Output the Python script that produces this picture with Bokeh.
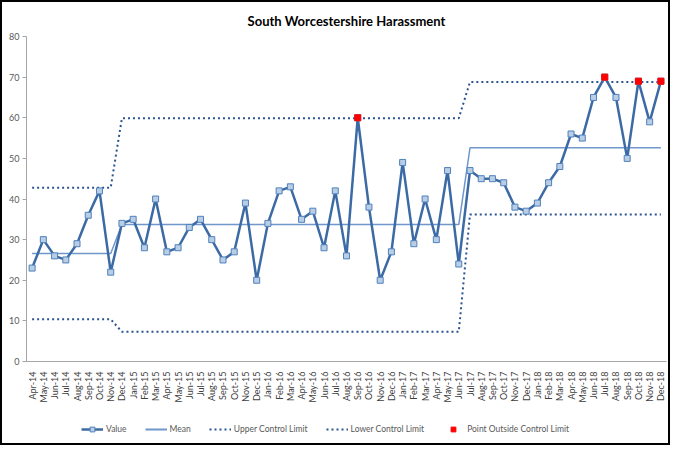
import math
from bokeh.plotting import figure
from bokeh.layouts import column
from bokeh.models import FactorRange, Range1d, FixedTicker, Legend, LegendItem, ColumnDataSource
from bokeh.embed import file_html
from bokeh.resources import INLINE

months = ["Apr-14","May-14","Jun-14","Jul-14","Aug-14","Sep-14","Oct-14","Nov-14","Dec-14",
          "Jan-15","Feb-15","Mar-15","Apr-15","May-15","Jun-15","Jul-15","Aug-15","Sep-15","Oct-15","Nov-15","Dec-15",
          "Jan-16","Feb-16","Mar-16","Apr-16","May-16","Jun-16","Jul-16","Aug-16","Sep-16","Oct-16","Nov-16","Dec-16",
          "Jan-17","Feb-17","Mar-17","Apr-17","May-17","Jun-17","Jul-17","Aug-17","Sep-17","Oct-17","Nov-17","Dec-17",
          "Jan-18","Feb-18","Mar-18","Apr-18","May-18","Jun-18","Jul-18","Aug-18","Sep-18","Oct-18","Nov-18","Dec-18"]

values = [23, 30, 26, 25, 29, 36, 42, 22, 34,
          35, 28, 40, 27, 28, 33, 35, 30, 25, 27, 39, 20,
          34, 42, 43, 35, 37, 28, 42, 26, 60, 38, 20, 27,
          49, 29, 40, 30, 47, 24, 47, 45, 45, 44, 38, 37,
          39, 44, 48, 56, 55, 65, 70, 65, 50, 69, 59, 69]

# Phase limits: Apr-14..Nov-14 (8), Dec-14..Jun-17 (31), Jul-17..Dec-18 (18)
phase_lengths = [8, 31, 18]
phase_mean = [26.6, 33.7, 52.6]
phase_ucl = [42.8, 59.9, 68.8]
phase_lcl = [10.4, 7.3, 36.2]

mean = sum(([m] * n for m, n in zip(phase_mean, phase_lengths)), [])
ucl = sum(([u] * n for u, n in zip(phase_ucl, phase_lengths)), [])
lcl = sum(([l] * n for l, n in zip(phase_lcl, phase_lengths)), [])

out_x = [m for m, v, u, l in zip(months, values, ucl, lcl) if v > u or v < l]
out_y = [v for m, v, u, l in zip(months, values, ucl, lcl) if v > u or v < l]

FONT = "Lato"
TXT = "#595959"
C_VAL = "#3B6AA5"
C_MK_FILL = "#B9CDE5"
C_MK_LINE = "#4F81BD"
C_MEAN = "#7097CB"
C_LIM = "#2A5391"

p = figure(x_range=FactorRange(factors=months, range_padding=0), y_range=Range1d(0, 80),
           width=666, height=405, output_backend="svg", toolbar_location=None,
           min_border_left=24, min_border_right=2, min_border_top=34, min_border_bottom=46,
           title="South Worcestershire Harassment")
p.outline_line_color = None
p.xgrid.grid_line_color = None
p.ygrid.grid_line_color = None
p.title.align = "center"
p.title.text_font = FONT
p.title.text_font_size = "13px"
p.title.text_font_style = "bold"
p.title.text_color = "#000000"
p.title.standoff = 16

p.yaxis.ticker = FixedTicker(ticks=[0, 10, 20, 30, 40, 50, 60, 70, 80])
p.yaxis.major_label_text_font = FONT
p.yaxis.major_label_text_font_size = "9px"
p.yaxis.major_label_text_color = TXT
p.yaxis.axis_line_color = "#A6A6A6"
p.yaxis.major_tick_line_color = "#A6A6A6"
p.yaxis.major_tick_out = 4
p.yaxis.major_tick_in = 0
p.yaxis.minor_tick_line_color = None
p.yaxis.major_label_standoff = 3

p.xaxis.major_label_orientation = math.pi / 2
p.xaxis.major_label_text_font = FONT
p.xaxis.major_label_text_font_size = "9px"
p.xaxis.major_label_text_color = "#404040"
p.xaxis.axis_line_color = "#A6A6A6"
p.xaxis.major_tick_line_color = None
p.xaxis.minor_tick_line_color = None
p.xaxis.major_label_standoff = 4

src = ColumnDataSource(dict(x=months, v=values, mean=mean, ucl=ucl, lcl=lcl))

p.line("x", "ucl", source=src, line_color=C_LIM, line_width=2, line_dash="2 3")
p.line("x", "lcl", source=src, line_color=C_LIM, line_width=2, line_dash="2 3")
p.line("x", "mean", source=src, line_color=C_MEAN, line_width=1.5)
p.line("x", "v", source=src, line_color=C_VAL, line_width=2.5)
p.scatter("x", "v", source=src, marker="square", size=6, fill_color=C_MK_FILL,
          line_color=C_MK_LINE, line_width=1)
p.scatter(out_x, out_y, marker="square", size=6, fill_color="#FF0000", line_color="#FF0000")

# Legend strip below the chart (its glyphs sit outside the visible range)
lg = figure(width=666, height=36, output_backend="svg", toolbar_location=None,
            x_axis_type=None, y_axis_type=None, x_range=Range1d(0, 1), y_range=Range1d(0, 1),
            min_border=0)
lg.outline_line_color = None
lg.xgrid.grid_line_color = None
lg.ygrid.grid_line_color = None
hx = [-10, -9]
hy = [-10, -9]
l_val = lg.line(x=hx, y=hy, line_color=C_VAL, line_width=2.5)
l_mk = lg.scatter(x=hx, y=hy, marker="square", size=6, fill_color=C_MK_FILL, line_color=C_MK_LINE, line_width=1)
l_mean = lg.line(x=hx, y=hy, line_color=C_MEAN, line_width=2)
l_ucl = lg.line(x=hx, y=hy, line_color=C_LIM, line_width=2, line_dash="2 3")
l_lcl = lg.line(x=hx, y=hy, line_color=C_LIM, line_width=2, line_dash="2 3")
l_out = lg.scatter(x=hx, y=hy, marker="square", size=5, fill_color="#FF0000", line_color="#FF0000")

legend = Legend(items=[
    LegendItem(label="Value", renderers=[l_val, l_mk]),
    LegendItem(label="Mean", renderers=[l_mean]),
    LegendItem(label="Upper Control Limit", renderers=[l_ucl]),
    LegendItem(label="Lower Control Limit", renderers=[l_lcl]),
    LegendItem(label="Point Outside Control Limit", renderers=[l_out]),
], orientation="horizontal", location=(55, 8))
legend.label_text_font = FONT
legend.label_text_font_size = "8.5px"
legend.label_text_color = TXT
legend.glyph_width = 22
legend.glyph_height = 12
legend.label_standoff = 3
legend.spacing = 18
legend.padding = 0
legend.margin = 0
legend.border_line_color = None
legend.background_fill_alpha = 0
lg.add_layout(legend)

layout = column(p, lg, spacing=0)
layout.styles = {"border": "2px solid black"}

open("out.html", "w").write(file_html(layout, INLINE))
